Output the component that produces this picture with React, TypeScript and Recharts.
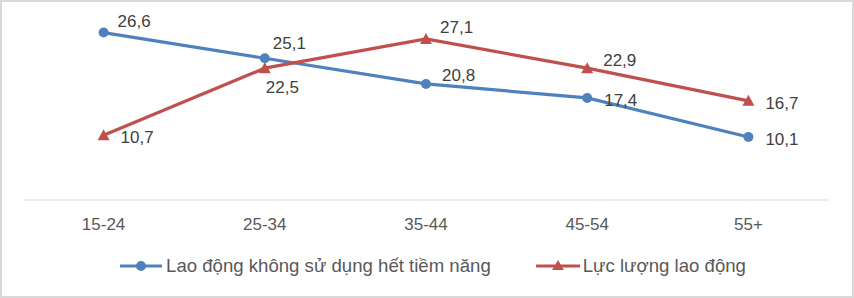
import React from "react";
import { LineChart, Line, XAxis, YAxis, Legend, LabelList } from "recharts";

const categories = ["15-24", "25-34", "35-44", "45-54", "55+"];
const seriesNames = ["Lao động không sử dụng hết tiềm năng", "Lực lượng lao động"];
// values
const underutilized = [28.7, 24.3, 19.9, 17.5, 10.8];
const laborForce = [11.1, 22.6, 27.6, 22.6, 17.0];
// label texts as printed on the chart
const underutilizedLabels = ["26,6", "25,1", "20,8", "17,4", "10,1"];
const laborForceLabels = ["10,7", "22,5", "27,1", "22,9", "16,7"];
const underutilizedPlacement = ["aboveRight", "above", "rightHigh", "right", "right"];
const laborForcePlacement = ["right", "below", "aboveRight", "rightHigh", "right"];

const BLUE = "#4f81bd";
const RED = "#c0504d";
const FONT = "'Liberation Sans', Arial, sans-serif";

const OFFSETS: Record<string, { dx: number; dy: number }> = {
  right: { dx: 17, dy: 8 },
  aboveRight: { dx: 14, dy: -6 },
  above: { dx: 8, dy: -9 },
  rightHigh: { dx: 16, dy: -2.5 },
  below: { dx: 1, dy: 25 },
};

const data = categories.map((c, i) => ({
  cat: c,
  a: underutilized[i],
  b: laborForce[i],
}));

const makeLabel = (texts: string[], placements: string[]) => (props: any) => {
  const { x, y, index } = props;
  const o = OFFSETS[placements[index]];
  return (
    <text x={x + o.dx} y={y + o.dy} fontSize={17} fill="#404040" fontFamily={FONT}>
      {texts[index]}
    </text>
  );
};

const Circle = (props: any) => {
  const { cx, cy, index } = props;
  return <circle key={"c" + index} cx={cx} cy={cy} r={5} fill={BLUE} stroke="none" />;
};

const Triangle = (props: any) => {
  const { cx, cy, index } = props;
  return (
    <polygon
      key={"t" + index}
      points={`${cx},${cy - 6} ${cx - 6},${cy + 5} ${cx + 6},${cy + 5}`}
      fill={RED}
      stroke="none"
    />
  );
};

const renderLegend = () => (
  <div
    style={{
      display: "flex",
      justifyContent: "center",
      alignItems: "center",
      height: 26,
      width: 854,
      paddingLeft: 12,
      boxSizing: "border-box",
      fontFamily: FONT,
      fontSize: 18.6,
      color: "#595959",
    }}
  >
    <svg width={42} height={14} style={{ display: "block" }}>
      <line x1={1} y1={7} x2={41} y2={7} stroke={BLUE} strokeWidth={3} strokeLinecap="round" />
      <circle cx={21} cy={7} r={5} fill={BLUE} />
    </svg>
    <span style={{ marginLeft: 4, whiteSpace: "nowrap" }}>{seriesNames[0]}</span>
    <svg width={44} height={14} style={{ display: "block", marginLeft: 45 }}>
      <line x1={1} y1={7} x2={43} y2={7} stroke={RED} strokeWidth={3} strokeLinecap="round" />
      <polygon points="22,1 16,11 28,11" fill={RED} />
    </svg>
    <span style={{ marginLeft: 3, whiteSpace: "nowrap" }}>{seriesNames[1]}</span>
  </div>
);

export default function App() {
  return (
    <div style={{ position: "absolute", left: 0, top: 0, width: 854, height: 298, background: "#fff" }}>
      <LineChart
        width={854}
        height={298}
        data={data}
        margin={{ top: 25, right: 25, bottom: 68, left: 23 }}
      >
        <XAxis
          dataKey="cat"
          height={30}
          padding={{ left: 80.6, right: 80.6 }}
          axisLine={{ stroke: "#d9d9d9", strokeWidth: 1 }}
          tickLine={false}
          tickMargin={12}
          tick={{ fontSize: 17, fill: "#595959", fontFamily: FONT }}
          interval={0}
        />
        <YAxis hide domain={[0, 30]} />
        <Legend verticalAlign="middle" wrapperStyle={{ top: 253, left: 0, width: 854 }} content={renderLegend} />
        <Line
          type="linear"
          dataKey="a"
          name={seriesNames[0]}
          stroke={BLUE}
          strokeWidth={3.2}
          dot={<Circle />}
          activeDot={false}
          isAnimationActive={false}
        >
          <LabelList dataKey="a" content={makeLabel(underutilizedLabels, underutilizedPlacement)} />
        </Line>
        <Line
          type="linear"
          dataKey="b"
          name={seriesNames[1]}
          stroke={RED}
          strokeWidth={3.2}
          dot={<Triangle />}
          activeDot={false}
          isAnimationActive={false}
        >
          <LabelList dataKey="b" content={makeLabel(laborForceLabels, laborForcePlacement)} />
        </Line>
      </LineChart>
      <div
        style={{
          position: "absolute",
          left: 0,
          top: 0,
          width: 854,
          height: 298,
          boxSizing: "border-box",
          border: "2px solid #d9d9d9",
          pointerEvents: "none",
        }}
      />
    </div>
  );
}
